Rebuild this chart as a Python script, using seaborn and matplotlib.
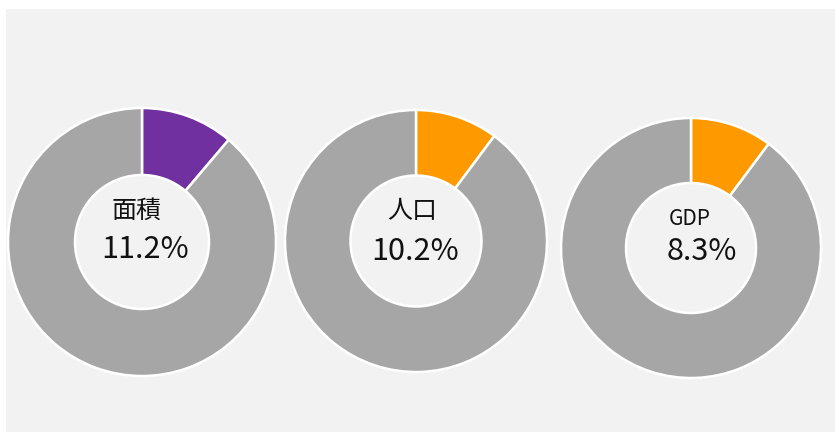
import matplotlib
matplotlib.use('Agg')
import matplotlib.pyplot as plt
import seaborn as sns

# share of each indicator (percent) as printed in the centre
labels = ['面積', '人口', 'GDP']
shares = [11.2, 10.2, 8.3]
# share drawn as the coloured arc (the GDP ring is drawn at ~10.2% in the source)
arc_shares = [11.2, 10.2, 10.2]
highlight = ['#7030a0', '#ff9900', '#ff9900']
rest_color = '#a6a6a6'

# donut placement in pixels (x, y from top, radius)
centers = [(142, 242), (416, 241), (691, 248)]
radii = [134, 131, 130]
# text centres in pixels (label, number)
label_pos = [(137, 211), (412, 211), (690, 219)]
number_pos = [(145, 250), (415, 251), (702, 252)]


def main():
    sns.set_theme(style="white")
    plt.rcParams['font.family'] = ['Noto Sans CJK JP', 'DejaVu Sans']

    W, H = 835, 432
    fig = plt.figure(figsize=(W / 100, H / 100), dpi=100)
    fig.patch.set_facecolor('white')
    left, top = 6, 9
    ax = fig.add_axes([left / W, 0, (W - left) / W, (H - top) / H])
    ax.set_facecolor('#f2f2f2')

    for lab, val, arc, col, (cx, cy), r, lp, npos in zip(
            labels, shares, arc_shares, highlight, centers, radii, label_pos, number_pos):
        ax.pie([arc, 100 - arc], colors=[col, rest_color], startangle=90,
               counterclock=False, center=(cx, H - cy), radius=r,
               wedgeprops=dict(width=r * 0.5, edgecolor='white', linewidth=1.8),
               frame=True)
        ax.text(lp[0], H - lp[1], lab, ha='center', va='center',
                fontsize=18 if lab != 'GDP' else 15, color='#111111')
        ax.text(npos[0], H - npos[1], f'{val}%', ha='center', va='center',
                fontsize=22, color='#111111')

    ax.set_xlim(left, W)
    ax.set_ylim(0, H - top)
    ax.set_aspect('equal')
    ax.set_xticks([])
    ax.set_yticks([])
    for s in ax.spines.values():
        s.set_visible(False)
    fig.savefig('out.png', dpi=100, facecolor='white')


if __name__ == "__main__":
    main()
